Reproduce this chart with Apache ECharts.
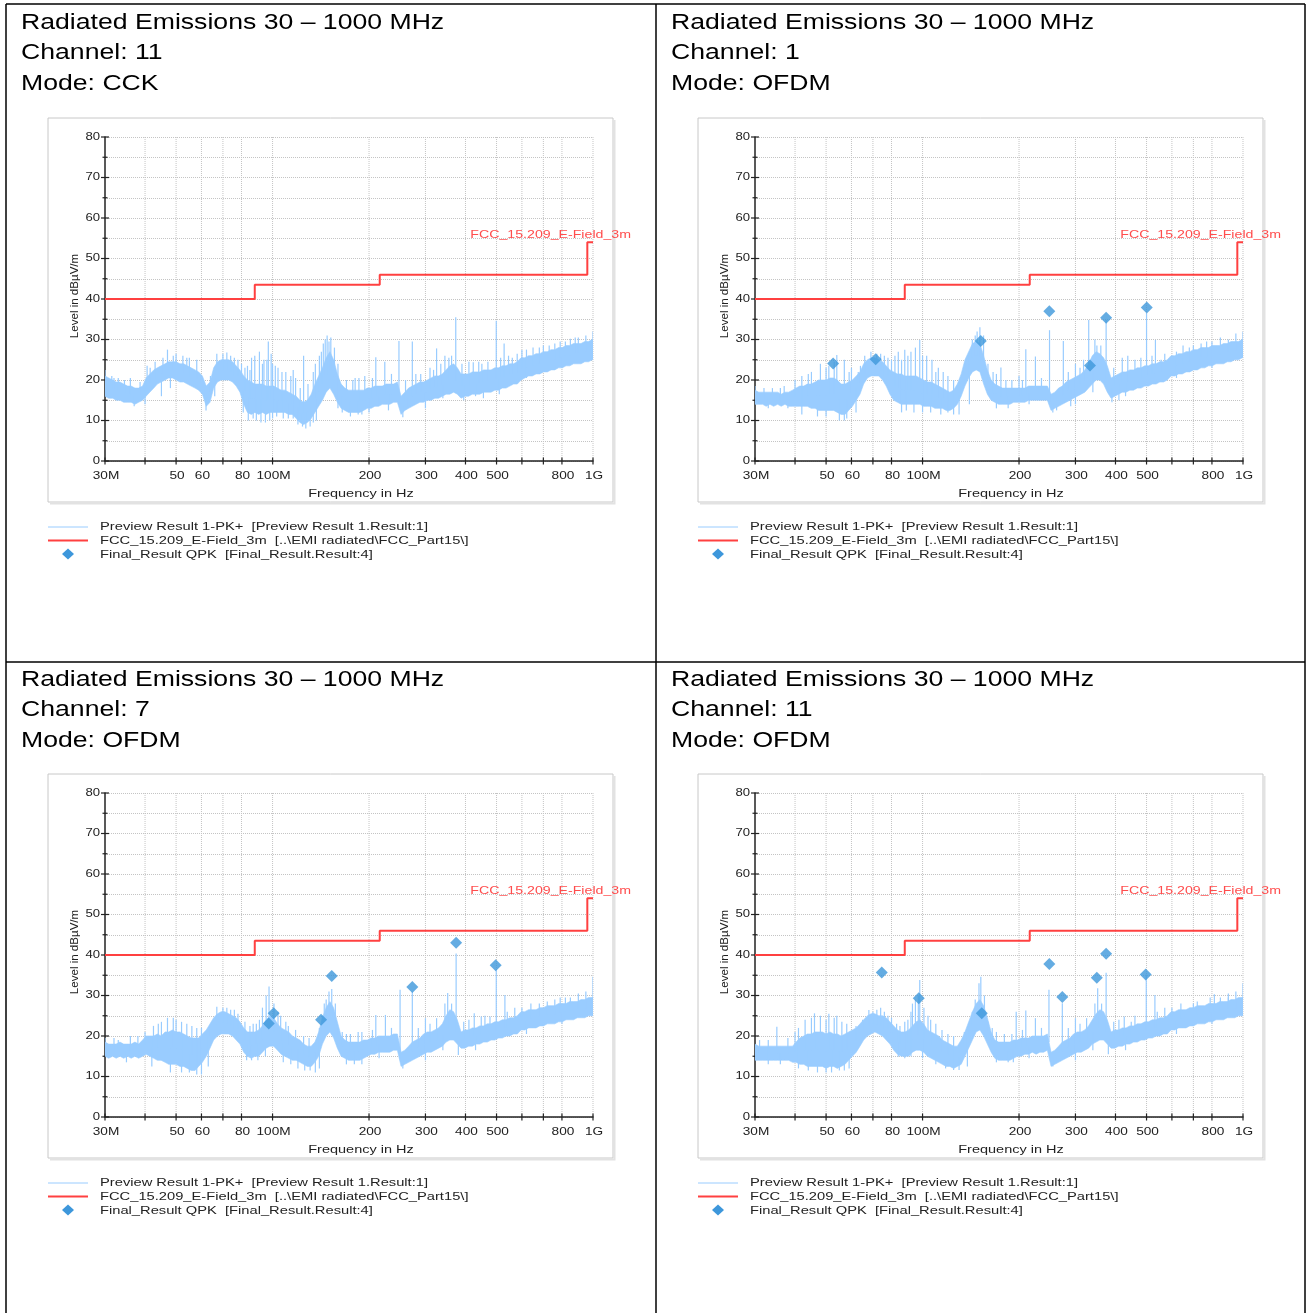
<!DOCTYPE html>
<html><head><meta charset="utf-8">
<script src="https://cdn.jsdelivr.net/npm/echarts@6/dist/echarts.min.js"></script>
<style>html,body{margin:0;padding:0;background:#fff}#c{width:1306px;height:1313px}</style>
</head><body><div id="c"></div>
<script>
// ---------- DATA ----------
const titleLines = [
  ['Radiated Emissions 30 – 1000 MHz', 'Channel: 11', 'Mode: CCK'],
  ['Radiated Emissions 30 – 1000 MHz', 'Channel: 1', 'Mode: OFDM'],
  ['Radiated Emissions 30 – 1000 MHz', 'Channel: 7', 'Mode: OFDM'],
  ['Radiated Emissions 30 – 1000 MHz', 'Channel: 11', 'Mode: OFDM']
];
const legendTexts = [
  'Preview Result 1-PK+  [Preview Result 1.Result:1]',
  'FCC_15.209_E-Field_3m  [..\\EMI radiated\\FCC_Part15\\]',
  'Final_Result QPK  [Final_Result.Result:4]'
];
const limitName = 'FCC_15.209_E-Field_3m';
const xAxisName = 'Frequency in Hz';
const yAxisName = 'Level in dBµV/m';

const xGridFreq = [40, 50, 60, 70, 80, 100, 200, 300, 400, 500, 600, 700, 800, 1000];
const xTickFreq = [30, 40, 50, 60, 70, 80, 100, 200, 300, 400, 500, 600, 700, 800, 1000];
const xLabelFreq = [30, 50, 60, 80, 100, 200, 300, 400, 500, 800, 1000];
const xLabelText = ['30M', '50', '60', '80', '100M', '200', '300', '400', '500', '800', '1G'];
const yLabelValues = [0, 10, 20, 30, 40, 50, 60, 70, 80];
const yMinorValues = [5, 15, 25, 35, 45, 55, 65, 75];

// FCC 15.209 limit (step at each frequency)
const limitFreq = [30, 88, 216, 960, 1000];
const limitLevel = [40, 43.5, 46, 54, 54];

// preview trace sampling frequencies (MHz)
const traceFreq = [30,30.8,31.7,32.5,33.4,34.3,35.3,36.2,37.2,38.2,
39.3,40.3,41.4,42.6,43.7,44.9,46.2,47.4,48.7,50,
51.4,52.8,54.2,55.7,57.3,58.8,60.4,62.1,63.8,65.5,
67.3,69.1,71,73,75,77,79.1,81.3,83.5,85.8,
88.1,90.5,93,95.5,98.1,100.8,103.6,106.4,109.3,112.3,
115.3,118.5,121.7,125,128.4,132,135.6,139.3,143.1,147,
151,155.1,159.3,163.7,168.1,172.7,177.5,182.3,187.3,192.4,
197.6,203,208.6,214.3,220.1,226.1,232.3,238.6,245.2,251.8,
258.7,265.8,273,280.5,288.2,296,304.1,312.4,320.9,329.7,
338.7,347.9,357.4,367.2,377.2,387.5,398.1,409,420.1,431.6,
443.4,455.5,467.9,480.7,493.8,507.3,521.1,535.4,550,565,
580.4,596.3,612.5,629.3,646.4,664.1,682.2,700.8,720,739.6,
759.8,780.6,801.9,823.8,846.3,869.4,893.1,917.5,942.5,968.2,
994.7,1000];

// ---- Panel 1: Channel 11, CCK ----
const p1Lo = [16,15.5,15.5,15,15,14.5,14.5,14.5,14,14.5,
15,16,17,18,19,19.5,20,20.5,20.5,20,
19.5,19.5,19,18.5,18,17.5,16.5,13.5,14.5,18,
19.5,20,20,20,19.5,18.5,17,14,12,11.5,
12,11.5,12,11.5,12,12,12,12,12,11.5,
11.5,10.5,9.5,9,9.5,10.5,12,13.5,15,17,
18,16.5,14.5,13,12.5,12,12,12,12,12.5,
13,13,13.5,13.5,14,14,14,14.5,14.5,11.5,
12.5,13,13.5,14,14.5,14.5,15,15,15.5,15.5,
16,16.5,16.5,17,16.5,15.5,16,16,16.5,16.5,
16.5,17,17,17,17.5,17.5,18,18,18.5,19,
19,20,20.5,21,21,21.5,21.5,22,22,22.5,
22.5,23,23,23.5,23.5,24,24,24,24.5,24.5,
25,25];
const p1Hi = [21,20.5,20,19.5,19.5,19,18.5,18.5,18,18,
18.5,20.5,21.5,22.5,23,23.5,24,24.5,24.5,24.5,
24,24,23.5,23,22.5,22,21,18.5,19.5,23,
24.5,25,25,25,24.5,23.5,22.5,21,20,19.5,
19,19,19,18.5,18.5,18.5,18,17.5,17.5,17,
16.5,16,15,14.5,15,16.5,19,21,23,25.5,
27,25,21.5,19,18,17.5,17.5,17.5,17.5,17.5,
18,18,18.5,18.5,18.5,19,19,19,19.5,16,
17,18,18.5,19,19.5,19.5,20,20.5,21,21,
21.5,22.5,23.5,24,23,21.5,21.5,21.5,22,22,
22,22.5,22.5,22.5,23,23,23.5,23.5,24,24,
24.5,25.5,25.5,26,26,26.5,26.5,27,27,27.5,
27.5,28,28,28.5,28.5,29,29,29,29.5,29.5,
30,30];
const p1SpikeFreq = [30,31.5,33,36,38.6,40.6,43,45.5,47,50,52.5,55,58,64,67,72,76,80,83.5,86,88,91,94,97,100,104,110,116,125,134,140,144,148,152,156,170,181,194,210,224,248,260,273,290,310,325,345,362,373,390,423,450,499,528,560,600,650,700,760,850,900,1000,
205,235,280,318,335,355,410,440,470,515,545,580,620,680,730,790,820,880,950,32,34.5,41.5,49,54,70,74,78,82,85,93,96,99,102,107,114,118,122,129,136,142,146,150,160,178,186];
const p1SpikeLevel = [22.5,21,20.5,20.5,19.5,23.5,24.5,25.5,27.5,26.5,26,25.5,25,21,26.5,26.8,25.5,24,23.5,25.5,26,27,25,29.5,24,23,22,22.5,26,22,26,29,31,30.5,28,20,20.5,21,25.6,24.5,29.6,20,29.5,21.5,23,27.8,26,26,35.5,24,24.4,24,34.6,29,25.5,27.4,28,28.5,29,30.2,30.5,32,
20.5,21.5,21.5,22.5,24,25.5,24.5,24.5,24.5,25.5,26,26.5,27.5,28,28.5,29.5,29.5,30.5,31,20.5,20,23,26,25.5,26.5,26,25,23,22.5,24,25,26.5,23.5,22,21,20.5,18,19,24,27,30,29.5,24,20,20.5];
const p1DipFreq = [37,45,62,81,84,89,92,98,103,112,120,127,131,137,165,175,190,230,255,300,395,455,510,
215,265,340,430,620,800,40,48,66,87,95,100,108,116,124,134,160,185,200];
const p1DipLevel = [13.5,16,12.5,12,10,10,9.5,10,11,10.5,9,8,8.5,10,12,11,11.5,12.5,10.8,13,15,15.5,16.5,
14,13.5,15.5,16,20.5,23,14,18,16,10.5,9.5,10.5,10.5,10.5,8.5,9.5,13,11.5,12];
const p1QpkFreq = [];
const p1QpkLevel = [];

// ---- Panel 2: Channel 1, OFDM ----
const p2Lo = [14,14,14,13.5,14,13.5,14,13.5,14,13.5,
13.5,13.5,13.5,13.5,13.5,13,13,12.5,12.5,12.5,
12.5,12.5,12,11.5,11.5,12.5,13.5,15,16.5,19,
20.5,21,21,21,20,18.5,16.5,15,14.5,14,
14,14,14,14,14,13.5,13.5,13.5,13,13,
13,12.5,12.5,13,14,16,18.5,20.5,22,22.5,
22,19,16.5,15,14.5,14,14,14,14,14.5,
14.5,14.5,14.5,15,15,15,15,15,15,12.5,
13,13.5,14,14.5,15,15.5,16,16.5,17,18,
19,20,20,19,17,15.5,16,16.5,17,17,
17.5,17.5,18,18,18.5,18.5,19,19,19.5,19.5,
20,21,21,21.5,21.5,22,22,22.5,22.5,23,
23,23.5,23.5,24,24,24,24.5,24.5,25,25,
25.5,25.5];
const p2Hi = [17.5,17,17,17,17,17,17,16.5,17,17,
17.5,18,18.5,18.5,19,19,19.5,20,20,20,
20.5,20.5,20,19,19,19.5,20,21,22,24,
25,25.5,25.5,25,24.5,23.5,22.5,22,21.5,21.5,
21,21,21,21,20.5,20,19.5,19.5,19,18.5,
18,17.5,17,17.5,19,21.5,25,27,29,29.5,
29,26,22.5,20,19,18.5,18,18,18,18,
18,18,18,18.5,18.5,18.5,18.5,18.5,18.5,16.5,
17,18,18.5,19.5,20,20.5,21,21.5,22.5,24,
26,27,26.5,25.5,23.5,20.5,21,21.5,22,22,
22.5,22.5,23,23,23.5,23.5,24,24,24.5,24.5,
25,26,26,26.5,26.5,27,27,27.5,27.5,28,
28,28,28.5,28.5,28.5,29,29,29.5,29.5,29.5,
30,30];
const p2SpikeFreq = [30,34,37,40,42,45,48,51,54,57,60,66,69,72,76,80,84,88,92,95,98,103,107,112,120,143,148,151,155,166,175.6,182,200,210,225,249,275,300,318,330,345,360,374,420,437,500,533,555,620,700,800,1000,
205,235,285,310,350,395,460,480,520,570,650,680,740,770,850,900,950,
32,36,44,50,53,59,63,64,74,78,82,86,90,100,110,116,125,135,140,146,160,170,190];
const p2SpikeLevel = [18.5,18,18.5,20,21,22,24,23.5,26.2,25,23,26,27,26.5,26,25,27,27.5,27,28,29.9,26,25,23,21,30,32,33,31,22,23.1,20,21,27.6,25.8,32.3,29.6,24,25,34.8,30,28.5,34.8,25.5,26,36.5,29.9,25,27,28.5,29.5,31.9,
20,20.5,22,23,28.5,23,25,25.5,26,26.5,28.5,28,29,29.5,30.5,30,31.5,
18,18,21.5,23,24.5,22,22,23.5,26.5,25.5,26,25,26,26,22,22,20,22,27,31,24,21.5,20];
const p2DipFreq = [38,47,55,57,62,86,100,120,130,170,185,255,262,290,390,410,
215,300,340,430,620,800,33,42,50,58,89,94,106,114,125,140];
const p2DipLevel = [13,11,10,10,12,12,12,12,11.5,13,13,12,12.5,13.5,14.5,15,
14,14,17,16,20.5,23,13,11.5,11,10.5,12.5,12,12,11.5,11.5,14];
const p2QpkFreq = [52.6, 71.4, 151.9, 248.6, 333, 374, 500.8];
const p2QpkLevel = [24.1, 25.1, 29.6, 37.0, 23.6, 35.4, 37.9];

// ---- Panel 3: Channel 7, OFDM ----
const p3Lo = [15,14.5,15,14.5,15,14.5,15,14.5,15,14.5,
15,15.5,15,14.5,14,14,13.5,13,13,13,
12.5,12.5,12,11.5,11.5,12.5,13.5,15,17,19,
20,20.5,20.5,20.5,20,19,18,16,15,14.5,
15,15,16,17,17.5,17.5,16.5,15.5,15,14.5,
14,14,13.5,13,12.5,12.5,13.5,15,18,20,
21,19.5,17,15,14.5,14,14,14,14,14.5,
15,15.5,15.5,16,16,16,16,16.5,16.5,12.5,
13,13.5,14,14.5,15,15.5,16,16,16.5,17,
17.5,18.5,19,19,18,17,17,17.5,17.5,18,
18,18.5,18.5,19,19,19.5,19.5,20,20,20.5,
20.5,21.5,21.5,22,22,22,22.5,22.5,23,23,
23,23.5,23.5,24,24,24,24.5,24.5,24.5,25,
25,25];
const p3Hi = [18.5,18,18,18,18.5,18,18,18,18.5,18,
19,20,20,20,20.5,20,21,21,21.5,21,
21,20.5,20,19.5,19.5,19.5,20.5,21.5,23,24.5,
25.5,26,26,25.5,25,24.5,23.5,22,21,21,
21,21.5,22.5,24,25,24.5,23,22,21.5,21,
20,19.5,19,18,17.5,17.5,18.5,21,24.5,27,
28.5,27,23.5,20,19,18.5,18.5,18.5,18.5,19,
19,19.5,19.5,20,20,20,20,20.5,20.5,16,
16.5,17.5,18.5,19,19.5,20.5,21,21,21.5,22,
23,25,26.5,26,24,21,21.5,21.5,22,22,
22.5,22.5,23,23,23.5,23.5,24,24,24.5,24.5,
25,26,26,26.5,26.5,26.5,27,27,27.5,27.5,
27.5,28,28,28,28.5,28.5,28.5,29,29,29.5,
29.5,29.5];
const p3SpikeFreq = [30,33,36,40,42.5,45,47,50,52,56,60,67,70,74,78,85,89,93,95.5,97.5,101,104,112,125,140,145,147,150,153,157,165,175,190,210,225,250,273,300,325,345,352,362,374,426,448,477,499,531,600,680,760,850,1000,
205,235,285,310,395,410,460,540,570,640,720,790,820,900,950,32,38,44,49,54,58,64,72,76,82,87,91,106,110,118,130,143,160,170,185];
const p3SpikeLevel = [19.5,19,20,21,22.5,23.5,24.5,24,23.5,22.5,22,27.2,27,26.5,25.5,22.5,23,27,30,32.2,28,26,22.5,20,22,28,29,31,31.6,28,21,20.5,21,25.2,25.2,31.4,31,24.4,24.4,28,30.6,28,40.4,25.6,24.8,24.8,36.3,30.1,27,28,29,29.5,34.6,
21.5,22,22,23,23.5,24,25,26,27,28,28.5,29.5,29.5,30.5,31,19.5,20,23,24.5,23,22,22.5,27,26.5,23.5,23,24,25,23.5,21.5,19.5,25,22,20.5,21];
const p3DipFreq = [35,48,55,58,63,83,90,108,120,131,136,170,180,255,380,
215,300,340,430,620,800,42,52,60,86,95,114,126,140,190];
const p3DipLevel = [13.5,11,11,10.5,12.5,14,14,13.5,12,11.5,11,13,13,12,15.3,
14.5,14,16.5,16.5,20.5,23,12.5,11,10.5,14,15,13,11.5,12,13];
const p3QpkFreq = [97.3, 100.8, 141.7, 153, 273, 374, 497];
const p3QpkLevel = [23.1, 25.6, 24.0, 34.8, 32.1, 43.0, 37.5];

// ---- Panel 4: Channel 11, OFDM ----
const p4Lo = [14,14,14,14,14,14,14,14,14,14,
13.5,13.5,13,13,12.5,12.5,12.5,12.5,12.5,12,
12.5,12.5,12,12.5,13,14,15,16,17.5,19,
20,20.5,21,20.5,20,19,18,16.5,15.5,15,
15,15,16,16.5,16.5,16,15,14.5,14,13.5,
13,12.5,12.5,12,12.5,13,15,17,19,21,
21.5,20,18,16,14.5,14,14,14,14,14.5,
15,15,15.5,15.5,16,15.5,16,16,16.5,12.5,
13,13.5,14,14.5,15,15.5,16,16,16.5,17,
18,18.5,19,19,18,17,17,17.5,17.5,18,
18,18.5,18.5,19,19,19.5,19.5,20,20,20.5,
20.5,21.5,21.5,22,22,22,22.5,22.5,23,23,
23,23.5,23.5,24,24,24,24.5,24.5,24.5,25,
25,25];
const p4Hi = [18,17.5,17.5,17.5,17.5,17.5,17.5,17.5,17.5,17.5,
17.5,18.5,19.5,20,20.5,20.5,21,21,21,20.5,
21,20.5,20.5,20,20.5,21,21.5,22,23,24,
25,25.5,25.5,25,25,24.5,23.5,22.5,21.5,21,
21,21.5,22.5,23.5,24,23,21.5,21,20.5,20,
19,18.5,18,17.5,17.5,19,21,23.5,26,28,
29,27.5,24.5,21,19,18.5,18.5,18.5,18.5,19,
19,19.5,19.5,19.5,20,20,20,20,20.5,16,
16.5,17.5,18.5,19,19.5,20.5,21,21,21.5,22.5,
24,25.5,26.5,26,24,21,21.5,21.5,22,22,
22.5,22.5,23,23,23.5,23.5,24,24,24.5,24.5,
25,26,26,26.5,26.5,26.5,27,27,27.5,27.5,
27.5,28,28,28,28.5,28.5,28.5,29,29,29.5,
29.5,29.5];
const p4SpikeFreq = [31,35.1,38,41,43,46,48,51,53,56,62,68,72,76,80,85,90,93,95,98,101,106,115,125,140,146,150,152,156,165,180,196,210,225,248,273,300,325,345,352,362,374,426,448,499,531,600,700,814,900,1000,
205,235,285,310,395,410,460,540,570,640,720,790,850,900,950,33,40,45,50,54,58,65,70,74,78,83,88,92,97,104,110,120,135,143,160,170,190];
const p4SpikeLevel = [19,22.3,19.5,22,24,25.6,25,25.5,24.5,23.5,22.5,26.4,26.5,26,24.5,22.5,24,28,29,33.8,27,24,21.5,20,23,29,33,34.6,30,22,20.5,26,26.3,24.4,31.4,28.1,24.4,24.4,28,31.8,28,35.6,24.8,23.5,35.1,30.1,27,28,30.3,29.5,33,
21.5,22,22,23,23.5,24,25,26,27,28,28.5,29.5,29.5,30.5,31,19,21,24.5,24,25,23,24,26,27,25,23,23.5,26,30,25,23,20.5,21,26,23.5,21,20.5];
const p4DipFreq = [33,44,50,55,59,84,88,110,125,130,170,185,255,380,
215,300,340,430,620,800,36,41,47,52,57,92,100,118,138,192];
const p4DipLevel = [13,11.5,11,11.5,12,14.9,14.5,13,11.6,11.6,13.5,13.5,12.5,15.5,
14.5,14,16.5,16.5,20.5,23,13,12,11,11,11.5,15,14.5,12,12.5,13.5];
const p4QpkFreq = [74.6, 97.3, 153, 248.6, 273, 349.8, 374, 497];
const p4QpkLevel = [35.7, 29.3, 25.6, 37.8, 29.6, 34.4, 40.3, 35.2];

// ---------- CHART ----------
const panels = [
  {lo: p1Lo, hi: p1Hi, sf: p1SpikeFreq.concat(p1DipFreq), sl: p1SpikeLevel.concat(p1DipLevel), qf: p1QpkFreq, ql: p1QpkLevel},
  {lo: p2Lo, hi: p2Hi, sf: p2SpikeFreq.concat(p2DipFreq), sl: p2SpikeLevel.concat(p2DipLevel), qf: p2QpkFreq, ql: p2QpkLevel},
  {lo: p3Lo, hi: p3Hi, sf: p3SpikeFreq.concat(p3DipFreq), sl: p3SpikeLevel.concat(p3DipLevel), qf: p3QpkFreq, ql: p3QpkLevel},
  {lo: p4Lo, hi: p4Hi, sf: p4SpikeFreq.concat(p4DipFreq), sl: p4SpikeLevel.concat(p4DipLevel), qf: p4QpkFreq, ql: p4QpkLevel}
];
const offsets = [[0, 0], [650, 0], [0, 656], [650, 656]];
const FONT = '"Liberation Sans", Arial, Helvetica, sans-serif';
const TRACE = '#99ccff', LIMIT = '#ff4040', QPK = '#3d97db', AXIS = '#222', GRID = '#c4c4c4';

const grids = [], xAxes = [], yAxes = [], series = [], graphics = [];

panels.forEach((p, k) => {
  const [dx, dy] = offsets[k];
  grids.push({left: 105 + dx, top: 137 + dy, width: 488, height: 324});
  xAxes.push({type: 'log', logBase: 10, min: 30, max: 1000, gridIndex: k,
    axisLine: {show: true, onZero: false, lineStyle: {color: AXIS, width: 1.5}},
    axisTick: {show: false}, axisLabel: {show: false}, splitLine: {show: false}});
  yAxes.push({type: 'value', min: 0, max: 80, interval: 5, gridIndex: k,
    axisLine: {show: true, onZero: false, lineStyle: {color: AXIS, width: 1.5}},
    axisTick: {show: false}, axisLabel: {show: false},
    splitLine: {show: true, lineStyle: {color: GRID, width: 1, type: [1, 1]}}});

  // grid lines, ticks, labels via the axes' own scale
  series.push({type: 'custom', xAxisIndex: k, yAxisIndex: k, z: 1, silent: true, clip: false,
    data: [[100, 40]],
    renderItem: (params, api) => {
      const ch = [];
      const o = api.coord([30, 0]);
      const top = api.coord([30, 80])[1];
      xGridFreq.forEach(f => {
        const x = api.coord([f, 0])[0];
        ch.push({type: 'line', shape: {x1: x, y1: top, x2: x, y2: o[1]},
          style: {stroke: GRID, lineWidth: 1, lineDash: [1, 1]}});
      });
      xTickFreq.forEach(f => {
        const x = api.coord([f, 0])[0];
        ch.push({type: 'line', shape: {x1: x, y1: o[1] - 3.5, x2: x, y2: o[1] + 3.5},
          style: {stroke: AXIS, lineWidth: 1.2}});
      });
      xLabelFreq.forEach((f, i) => {
        const x = api.coord([f, 0])[0];
        ch.push({type: 'text', x: x + 1, y: o[1] + 15, scaleX: 1.3,
          style: {text: xLabelText[i], align: 'center', verticalAlign: 'middle',
            fontSize: 10.5, fontFamily: FONT, fill: AXIS}});
      });
      yLabelValues.forEach(v => {
        const y = api.coord([30, v])[1];
        ch.push({type: 'line', shape: {x1: o[0] - 4, y1: y, x2: o[0] + 4, y2: y},
          style: {stroke: AXIS, lineWidth: 1.2}});
        ch.push({type: 'text', x: o[0] - 5, y: y, scaleX: 1.25,
          style: {text: String(v), align: 'right', verticalAlign: 'middle',
            fontSize: 10.5, fontFamily: FONT, fill: AXIS}});
      });
      yMinorValues.forEach(v => {
        const y = api.coord([30, v])[1];
        ch.push({type: 'line', shape: {x1: o[0] - 2.5, y1: y, x2: o[0] + 2.5, y2: y},
          style: {stroke: AXIS, lineWidth: 1.2}});
      });
      const e = api.coord([limitFreq[limitFreq.length - 1], limitLevel[limitLevel.length - 1]]);
      ch.push({type: 'text', x: e[0] + 38, y: e[1] - 7, scaleX: 1.35,
        style: {text: limitName, align: 'right', verticalAlign: 'middle',
          fontSize: 10.5, fontFamily: FONT, fill: '#ff4d4d'}});
      return {type: 'group', children: ch};
    }});

  // preview PK+ band
  series.push({type: 'custom', xAxisIndex: k, yAxisIndex: k, z: 2, silent: true, clip: true,
    data: [[100, 20]],
    renderItem: (params, api) => {
      const pts = [];
      for (let i = 0; i < traceFreq.length; i++) pts.push(api.coord([traceFreq[i], p.hi[i]]));
      for (let i = traceFreq.length - 1; i >= 0; i--) pts.push(api.coord([traceFreq[i], p.lo[i]]));
      return {type: 'polygon', shape: {points: pts}, style: {fill: TRACE, stroke: TRACE, lineWidth: 0.6}};
    }});

  // narrow-band spikes / dips of the preview trace
  series.push({type: 'custom', xAxisIndex: k, yAxisIndex: k, z: 3, silent: true, clip: true,
    data: p.sf.map((f, i) => [f, p.sl[i]]),
    renderItem: (params, api) => {
      const f = api.value(0), t = api.value(1);
      let bi = 0, bd = Infinity;
      traceFreq.forEach((g, i) => { const d = Math.abs(Math.log(g / f)); if (d < bd) { bd = d; bi = i; } });
      const base = (p.lo[bi] + p.hi[bi]) / 2;
      const a = api.coord([f, base]), b = api.coord([f, t]);
      return {type: 'line', shape: {x1: a[0], y1: a[1], x2: b[0], y2: b[1]},
        style: {stroke: TRACE, lineWidth: 1.2}};
    }});

  // limit line
  series.push({type: 'line', xAxisIndex: k, yAxisIndex: k, z: 4, silent: true, step: 'end',
    symbol: 'none',
    data: limitFreq.map((f, i) => [f, limitLevel[i]]),
    lineStyle: {color: LIMIT, width: 2}});

  // final QPK results
  series.push({type: 'scatter', xAxisIndex: k, yAxisIndex: k, z: 5, silent: true,
    symbol: 'diamond', symbolSize: 12, itemStyle: {color: QPK},
    data: p.qf.map((f, i) => [f, p.ql[i]])});

  // ---- static page decoration ----
  titleLines[k].forEach((t, i) => {
    graphics.push({type: 'text', x: 21 + dx, y: 22.5 + 30.5 * i + dy + (k >= 2 ? 1 : 0), scaleX: 1.21,
      style: {text: t, fontSize: 22, fontFamily: FONT, fill: '#000', align: 'left', verticalAlign: 'middle'}});
  });
  graphics.push({type: 'rect', shape: {x: 48 + dx, y: 118 + dy, width: 565, height: 384},
    style: {fill: 'none', stroke: '#c8c8c8', lineWidth: 1}});
  graphics.push({type: 'polyline', shape: {points: [[614.5 + dx, 120 + dy], [614.5 + dx, 503.5 + dy], [50 + dx, 503.5 + dy]]},
    style: {fill: 'none', stroke: '#e2e2e2', lineWidth: 2}});
  graphics.push({type: 'text', x: 361 + dx, y: 494 + dy, scaleX: 1.38,
    style: {text: xAxisName, fontSize: 10.5, fontFamily: FONT, fill: AXIS, align: 'center', verticalAlign: 'middle'}});
  graphics.push({type: 'text', x: 75 + dx, y: 296 + dy, rotation: Math.PI / 2, scaleX: 1.1,
    style: {text: yAxisName, fontSize: 10.5, fontFamily: FONT, fill: AXIS, align: 'center', verticalAlign: 'middle'}});
  // legend
  graphics.push({type: 'line', shape: {x1: 48 + dx, y1: 527 + dy, x2: 88 + dx, y2: 527 + dy},
    style: {stroke: TRACE, lineWidth: 1}});
  graphics.push({type: 'line', shape: {x1: 48 + dx, y1: 540.5 + dy, x2: 88 + dx, y2: 540.5 + dy},
    style: {stroke: LIMIT, lineWidth: 2}});
  graphics.push({type: 'polygon', shape: {points: [[68 + dx, 548.5 + dy], [74 + dx, 554 + dy], [68 + dx, 559.5 + dy], [62 + dx, 554 + dy]]},
    style: {fill: QPK}});
  legendTexts.forEach((t, i) => {
    graphics.push({type: 'text', x: 100 + dx, y: [527.5, 541.5, 555][i] + dy, scaleX: 1.4,
      style: {text: t, fontSize: 10.5, fontFamily: FONT, fill: AXIS, align: 'left', verticalAlign: 'middle'}});
  });
});

// table borders
[[6, 4, 6, 1313], [656, 4, 656, 1313], [1305, 4, 1305, 1313], [6, 4, 1305, 4], [6, 662, 1305, 662]].forEach(l => {
  graphics.push({type: 'line', shape: {x1: l[0], y1: l[1], x2: l[2], y2: l[3]}, style: {stroke: '#000', lineWidth: 1.5}});
});

const chart = echarts.init(document.getElementById('c'), null, {renderer: 'canvas'});
chart.setOption({
  animation: false,
  backgroundColor: '#fff',
  grid: grids, xAxis: xAxes, yAxis: yAxes, series: series,
  graphic: {elements: graphics}
});
</script></body></html>
